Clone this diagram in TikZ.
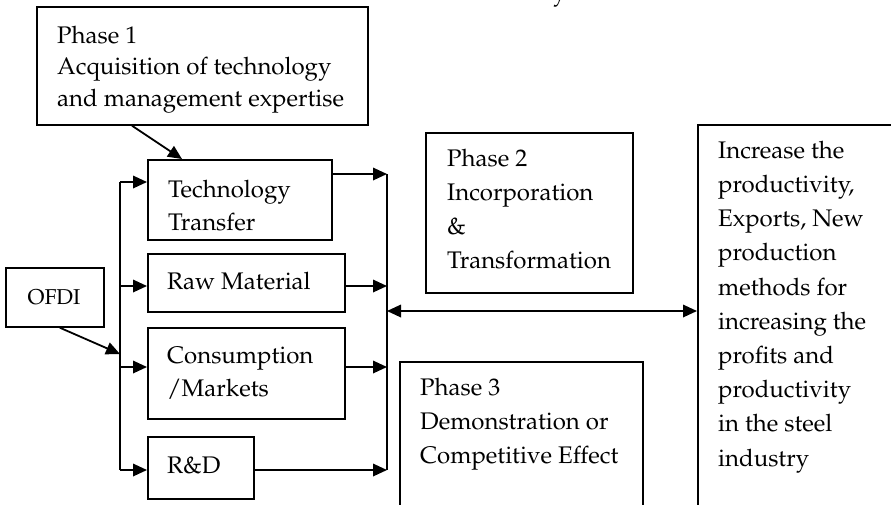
\documentclass[tikz,border=0pt]{standalone}
\usepackage[T1]{fontenc}
\usepackage{mathpazo}
\usetikzlibrary{arrows.meta,calc}
\begin{document}
\begin{tikzpicture}[x=1pt,y=-1pt,
  box/.style={draw, line width=1.7pt, inner sep=0pt, anchor=north west},
  txt/.style={inner sep=0pt, anchor=north west, align=left},
  conn/.style={line width=1.8pt},
  tip/.tip={Triangle[length=14pt,width=12.5pt]},
  arr/.style={conn, -tip},
  darr/.style={conn, tip-tip}]
\useasboundingbox (0,0) rectangle (891,504);
\clip (0,0) rectangle (891,504);
\fill[white] (0,0) rectangle (891,504);

% boxes
\node[box, minimum width=331pt, minimum height=118pt] (p1)   at (36,6)   {};
\node[box, minimum width=184pt, minimum height=80pt]  (tech) at (147,159) {};
\node[box, minimum width=197pt, minimum height=58pt]  (raw)  at (147,253) {};
\node[box, minimum width=197pt, minimum height=91pt]  (cons) at (147,327) {};
\node[box, minimum width=106pt, minimum height=62pt]  (rd)   at (147,436) {};
\node[box, minimum width=98pt,  minimum height=59pt]  (ofdi) at (5,267)   {};
\node[box, minimum width=207pt, minimum height=160pt] (p2)   at (425,132) {};
\node[box, minimum width=243pt, minimum height=170pt] (p3)   at (399,361) {};
\node[box, minimum width=230pt, minimum height=400pt] (res)  at (697,124) {};

% texts (first baseline = top + strut height)
\node[txt, font=\fontsize{24}{31.5}\selectfont] (p1t) at (57,21)
  {\strut Phase 1\\Acquisition of technology\\and management expertise};
\node[txt, font=\fontsize{24}{33}\selectfont] (techt) at (168,174)
  {\strut Technology\\Transfer};
\node[txt, font=\fontsize{24}{33}\selectfont] (rawt) at (167,266)
  {\strut Raw Material};
\node[txt, font=\fontsize{24}{33}\selectfont] (const) at (167,340)
  {\strut Consumption\\/Markets};
\node[txt, font=\fontsize{24}{33}\selectfont] (rdt) at (167,450)
  {\strut R\&D};
\node[inner sep=0pt, anchor=base, font=\fontsize{21.5}{24}\selectfont] (ofdit) at (54,304) {OFDI};
\node[txt, font=\fontsize{24}{34}\selectfont] (p2t) at (447,142.2)
  {\strut Phase 2\\Incorporation\\\&\\Transformation};
\node[txt, font=\fontsize{24}{34}\selectfont] (p3t) at (420,371.2)
  {\strut Phase 3\\Demonstration or\\Competitive Effect};
\node[txt, font=\fontsize{24}{34.2}\selectfont] (rest) at (718,134.1)
  {\strut Increase the\\productivity,\\Exports, New\\production\\methods for\\increasing the\\profits and\\productivity\\in the steel\\industry};
\node[inner sep=0pt, anchor=base west, font=\fontsize{24}{28}\selectfont] (ttl) at (553,0) {y};

% left distribution bus
\coordinate (L1) at (120,182);
\coordinate (L2) at (120,286);
\coordinate (L3) at (120,367);
\coordinate (L4) at (120,470);
\coordinate (LO) at (120,354);
\draw[conn] (L1) -- (L4);
\draw[arr] (L1) -- (L1 -| tech.west);
\draw[arr] (L2) -- (L2 -| raw.west);
\draw[arr] (L3) -- (L3 -| cons.west);
\draw[arr] (L4) -- (L4 -| rd.west);
\draw[arr] ($(ofdi.south)+(5,0)$) -- (LO);

% phase 1 feeds technology transfer
\draw[arr] ($(p1.south west)+(96,0)$) -- ($(tech.north west)+(35,0)$);

% right collecting bus
\coordinate (R1) at (387,174);
\coordinate (R2) at (387,286);
\coordinate (R3) at (387,367);
\coordinate (R4) at (387,470);
\coordinate (RM) at (387,311);
\draw[conn] (R1) -- (R4);
\draw[arr] (R1 -| tech.east) -- (R1);
\draw[arr] (R2 -| raw.east) -- (R2);
\draw[arr] (R3 -| cons.east) -- (R3);
\draw[arr] (R4 -| rd.east) -- (R4);
\draw[darr] (RM) -- (RM -| res.west);
\end{tikzpicture}
\end{document}
